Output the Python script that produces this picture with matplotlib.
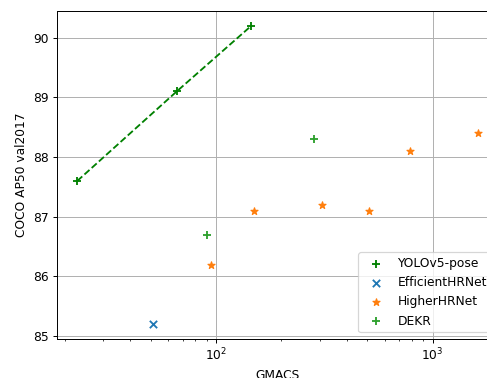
import matplotlib
matplotlib.use("Agg")
import matplotlib.pyplot as plt

# GMACS / AP50
yolo_gmacs = [22.7, 65.5, 145]
yolo_ap50 = [87.6, 89.1, 90.2]

effhr_gmacs = [50.7]
effhr_ap50 = [85.2]

higherhr_gmacs = [94.4, 150, 308, 506, 787, 1623]
higherhr_ap50 = [86.2, 87.1, 87.2, 87.1, 88.1, 88.4]

dekr_gmacs = [90.2, 282]
dekr_ap50 = [86.7, 88.3]

dpi = 88
fig = plt.figure(figsize=(487 / dpi, 378 / dpi), dpi=dpi)
# eixo passa um pouco da borda direita (figura recortada no original)
ax = fig.add_axes([57 / 487, 1 - 338.5 / 378, (498 - 57) / 487, (338.5 - 11.5) / 378])

ax.scatter(yolo_gmacs, yolo_ap50, marker='+', c='g', label='YOLOv5-pose')
ax.plot(yolo_gmacs, yolo_ap50, 'g--')
ax.scatter(effhr_gmacs, effhr_ap50, marker='x', c='tab:blue', label='EfficientHRNet')
ax.scatter(higherhr_gmacs, higherhr_ap50, marker='*', c='tab:orange', label='HigherHRNet')
ax.scatter(dekr_gmacs, dekr_ap50, marker='+', c='tab:green', label='DEKR')

ax.set_xscale('log')
ax.set_xlim(18.3, 2009)
ax.set_ylim(84.96, 90.44)
ax.set_xlabel('GMACS')
ax.set_ylabel('COCO AP50 val2017')
ax.legend(loc='lower right')
ax.grid(True)

fig.savefig('out.png', dpi=dpi)
